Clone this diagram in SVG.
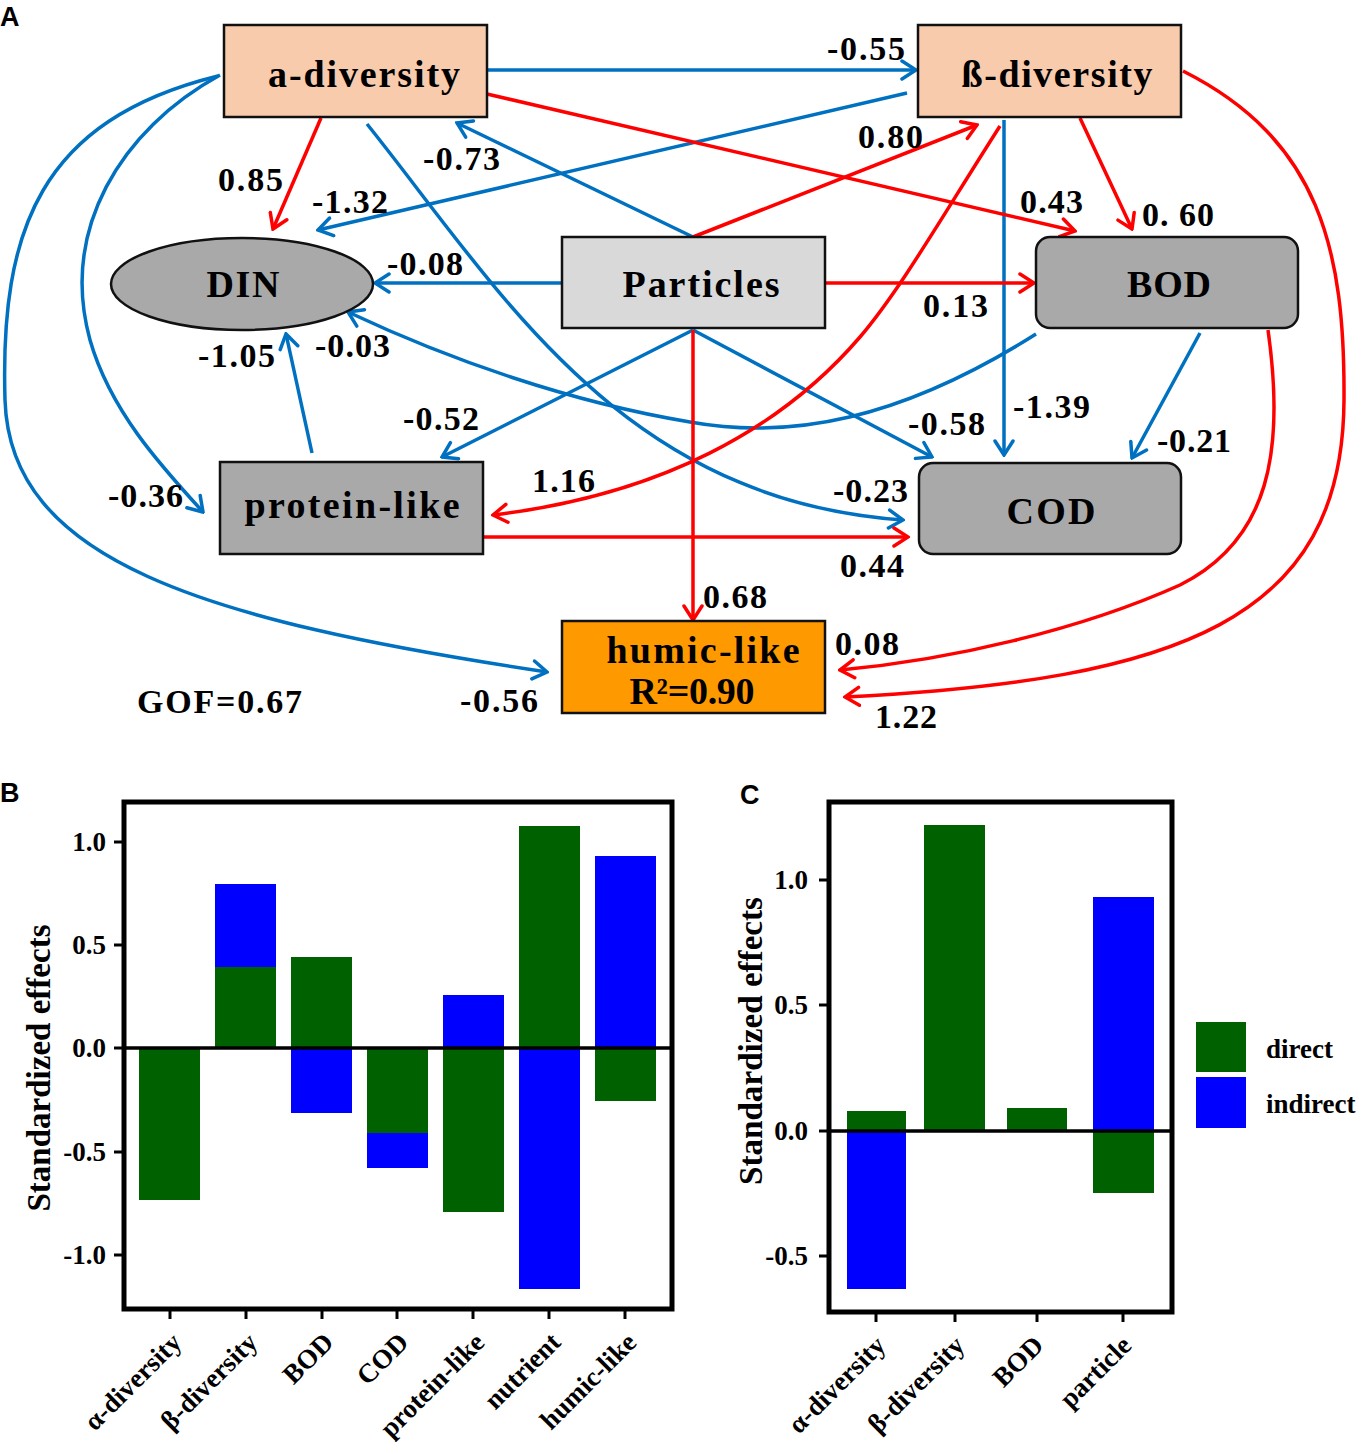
<svg xmlns="http://www.w3.org/2000/svg" width="1358" height="1442" viewBox="0 0 1358 1442">
<style>
.box{stroke:#111;stroke-width:2.5}
.nl{font-family:"Liberation Serif","Times New Roman",serif;font-weight:bold;font-size:38px;text-anchor:middle;fill:#000}
.num{font-family:"Liberation Serif","Times New Roman",serif;font-weight:bold;font-size:34px;fill:#000}
.b{fill:none;stroke:#0070C0;stroke-width:3.5}
.r{fill:none;stroke:#FF0000;stroke-width:3.5}
.bb{marker-end:url(#ab)}
.rr{marker-end:url(#ar)}
.pl{font-family:"Liberation Sans",Arial,sans-serif;font-weight:bold;font-size:27px;fill:#000}
.ax{font-family:"Liberation Serif","Times New Roman",serif;font-weight:bold;font-size:27px;fill:#000}
.xl{font-family:"Liberation Serif","Times New Roman",serif;font-weight:bold;font-size:27px;fill:#000;text-anchor:end}
.yt{font-family:"Liberation Serif","Times New Roman",serif;font-weight:bold;font-size:33px;fill:#000;text-anchor:middle}
.frame{fill:none;stroke:#000;stroke-width:5}
.tk{stroke:#000;stroke-width:3}
.g{fill:#006100}
.bl{fill:#0000FF}
</style>
<defs>
<marker id="ab" markerUnits="userSpaceOnUse" viewBox="0 0 18 22" refX="16" refY="11" markerWidth="18" markerHeight="22" orient="auto">
<path d="M2,2 L16,11 L2,20" fill="none" stroke="#0070C0" stroke-width="3.5" stroke-linecap="round" stroke-linejoin="miter"/>
</marker>
<marker id="ar" markerUnits="userSpaceOnUse" viewBox="0 0 18 22" refX="16" refY="11" markerWidth="18" markerHeight="22" orient="auto">
<path d="M2,2 L16,11 L2,20" fill="none" stroke="#FF0000" stroke-width="3.5" stroke-linecap="round" stroke-linejoin="miter"/>
</marker>
</defs>
<rect x="0" y="0" width="1358" height="1442" fill="#FFFFFF"/>

<text class="pl" x="0" y="26">A</text>

<g id="connectors">
<!-- straight blue -->
<path class="b bb" d="M484,70 L916,70"/>
<path class="b bb" d="M907,93 L318,230"/>
<path class="b bb" d="M693,237 L457,123"/>
<path class="b bb" d="M562,283 L375,283"/>
<path class="b bb" d="M1004,120 L1004,455"/>
<path class="b bb" d="M1200,333 L1132,458"/>
<path class="b bb" d="M693,330 L442,457"/>
<path class="b bb" d="M693,330 L932,457"/>
<path class="b bb" d="M312,453 L286,334"/>
<!-- curved blue -->
<path class="b bb" d="M367,124 C500,290 620,500 903,520"/>
<path class="b bb" d="M1036,334 C900,420 790,440 690,422 C570,402 450,360 348,312"/>
<path class="b bb" d="M220,75 C120,130 60,230 90,340 C110,410 160,465 203,512"/>
<path class="b bb" d="M218,76 C40,120 0,230 5,400 C10,560 200,620 547,672"/>
<!-- straight red -->
<path class="r rr" d="M487,94 L1075,231"/>
<path class="r rr" d="M321,118 L273,229"/>
<path class="r rr" d="M825,283 L1034,283"/>
<path class="r rr" d="M693,237 L977,125"/>
<path class="r rr" d="M1080,118 L1132,229"/>
<path class="r rr" d="M693,330 L693,620"/>
<path class="r rr" d="M483,537 L908,537"/>
<!-- curved red -->
<path class="r rr" d="M1000,126 C940,220 900,290 860,337 C780,430 660,495 493,515"/>
<path class="r rr" d="M1183,71 C1320,140 1345,250 1344,400 C1343,620 1180,680 845,697"/>
<path class="r rr" d="M1268,330 C1285,450 1270,540 1180,585 C1080,630 950,660 840,670"/>
</g>

<g id="node-a-diversity">
<rect class="box" x="224" y="25" width="263" height="92" fill="#F8CBAD"/>
<text class="nl" x="364" y="87" textLength="192" lengthAdjust="spacing">a-diversity</text>
</g>
<g id="node-b-diversity">
<rect class="box" x="918" y="25" width="263" height="92" fill="#F8CBAD"/>
<text class="nl" x="1057" y="87" textLength="191" lengthAdjust="spacing">ß-diversity</text>
</g>
<g id="node-DIN">
<ellipse class="box" cx="242" cy="284" rx="131" ry="46" fill="#A9A9A9"/>
<text class="nl" x="243" y="297" textLength="73" lengthAdjust="spacing">DIN</text>
</g>
<g id="node-Particles">
<rect class="box" x="562" y="237" width="263" height="91" fill="#D9D9D9"/>
<text class="nl" x="701" y="297" textLength="157" lengthAdjust="spacing">Particles</text>
</g>
<g id="node-BOD">
<rect class="box" x="1036" y="237" width="262" height="91" rx="14" fill="#A9A9A9"/>
<text class="nl" x="1169" y="297" textLength="84" lengthAdjust="spacing">BOD</text>
</g>
<g id="node-protein-like">
<rect class="box" x="220" y="462" width="263" height="92" fill="#A9A9A9"/>
<text class="nl" x="352" y="518" textLength="215" lengthAdjust="spacing">protein-like</text>
</g>
<g id="node-COD">
<rect class="box" x="919" y="463" width="262" height="91" rx="14" fill="#A9A9A9"/>
<text class="nl" x="1051" y="524" textLength="89" lengthAdjust="spacing">COD</text>
</g>
<g id="node-humic-like">
<rect class="box" x="562" y="621" width="263" height="92" fill="#FF9900"/>
<text class="nl" x="703" y="663" textLength="193" lengthAdjust="spacing">humic-like</text>
<text class="nl" x="692" y="704" textLength="125" lengthAdjust="spacing">R²=0.90</text>
</g>

<g id="edge-labels">
<text class="num" x="827" y="60" textLength="78" lengthAdjust="spacing">-0.55</text>
<text class="num" x="858" y="148" textLength="65" lengthAdjust="spacing">0.80</text>
<text class="num" x="423" y="170" textLength="77" lengthAdjust="spacing">-0.73</text>
<text class="num" x="218" y="191" textLength="65" lengthAdjust="spacing">0.85</text>
<text class="num" x="312" y="213" textLength="76" lengthAdjust="spacing">-1.32</text>
<text class="num" x="387" y="275" textLength="76" lengthAdjust="spacing">-0.08</text>
<text class="num" x="315" y="357" textLength="75" lengthAdjust="spacing">-0.03</text>
<text class="num" x="198" y="367" textLength="77" lengthAdjust="spacing">-1.05</text>
<text class="num" x="1020" y="213" textLength="63" lengthAdjust="spacing">0.43</text>
<text class="num" x="1142" y="226" textLength="72" lengthAdjust="spacing">0. 60</text>
<text class="num" x="923" y="317" textLength="65" lengthAdjust="spacing">0.13</text>
<text class="num" x="1013" y="418" textLength="77" lengthAdjust="spacing">-1.39</text>
<text class="num" x="908" y="435" textLength="77" lengthAdjust="spacing">-0.58</text>
<text class="num" x="1157" y="452" textLength="74" lengthAdjust="spacing">-0.21</text>
<text class="num" x="403" y="430" textLength="76" lengthAdjust="spacing">-0.52</text>
<text class="num" x="108" y="507" textLength="75" lengthAdjust="spacing">-0.36</text>
<text class="num" x="532" y="492" textLength="63" lengthAdjust="spacing">1.16</text>
<text class="num" x="833" y="502" textLength="75" lengthAdjust="spacing">-0.23</text>
<text class="num" x="840" y="577" textLength="64" lengthAdjust="spacing">0.44</text>
<text class="num" x="703" y="608" textLength="64" lengthAdjust="spacing">0.68</text>
<text class="num" x="835" y="655" textLength="64" lengthAdjust="spacing">0.08</text>
<text class="num" x="875" y="728" textLength="62" lengthAdjust="spacing">1.22</text>
<text class="num" x="460" y="712" textLength="78" lengthAdjust="spacing">-0.56</text>
<text class="num" x="137" y="713" textLength="165" lengthAdjust="spacing">GOF=0.67</text>
</g>

<!-- Panel B -->
<g id="panel-B">
<text class="pl" x="0" y="802">B</text>
<rect class="g" x="139" y="1048" width="61" height="152"/>
<rect class="g" x="215" y="967" width="61" height="81"/>
<rect class="bl" x="215" y="884" width="61" height="83"/>
<rect class="g" x="291" y="957" width="61" height="91"/>
<rect class="bl" x="291" y="1048" width="61" height="65"/>
<rect class="g" x="367" y="1048" width="61" height="85"/>
<rect class="bl" x="367" y="1133" width="61" height="35"/>
<rect class="bl" x="443" y="995" width="61" height="53"/>
<rect class="g" x="443" y="1048" width="61" height="164"/>
<rect class="g" x="519" y="826" width="61" height="222"/>
<rect class="bl" x="519" y="1048" width="61" height="241"/>
<rect class="bl" x="595" y="856" width="61" height="192"/>
<rect class="g" x="595" y="1048" width="61" height="53"/>
<line x1="124" y1="1048" x2="672" y2="1048" stroke="#000" stroke-width="3.5"/>
<rect class="frame" x="124" y="802" width="548" height="507"/>
<g class="tk">
<line x1="114" y1="842" x2="124" y2="842"/>
<line x1="114" y1="945" x2="124" y2="945"/>
<line x1="114" y1="1048" x2="124" y2="1048"/>
<line x1="114" y1="1152" x2="124" y2="1152"/>
<line x1="114" y1="1255" x2="124" y2="1255"/>
<line x1="170" y1="1309" x2="170" y2="1319"/>
<line x1="246" y1="1309" x2="246" y2="1319"/>
<line x1="322" y1="1309" x2="322" y2="1319"/>
<line x1="397" y1="1309" x2="397" y2="1319"/>
<line x1="473" y1="1309" x2="473" y2="1319"/>
<line x1="549" y1="1309" x2="549" y2="1319"/>
<line x1="625" y1="1309" x2="625" y2="1319"/>
</g>
<g class="ax" text-anchor="end">
<text x="106" y="851">1.0</text>
<text x="106" y="954">0.5</text>
<text x="106" y="1057">0.0</text>
<text x="106" y="1161">-0.5</text>
<text x="106" y="1264">-1.0</text>
</g>
<text class="yt" transform="translate(50,1068) rotate(-90)" textLength="287" lengthAdjust="spacingAndGlyphs">Standardized effects</text>
<text class="xl" transform="translate(183,1344) rotate(-45)">α-diversity</text>
<text class="xl" transform="translate(259,1344) rotate(-45)">β-diversity</text>
<text class="xl" transform="translate(335,1344) rotate(-45)">BOD</text>
<text class="xl" transform="translate(410,1344) rotate(-45)">COD</text>
<text class="xl" transform="translate(486,1344) rotate(-45)">protein-like</text>
<text class="xl" transform="translate(562,1344) rotate(-45)">nutrient</text>
<text class="xl" transform="translate(638,1344) rotate(-45)">humic-like</text>
</g>

<!-- Panel C -->
<g id="panel-C">
<text class="pl" x="740" y="804">C</text>
<rect class="g" x="847" y="1111" width="59" height="20"/>
<rect class="bl" x="847" y="1131" width="59" height="158"/>
<rect class="g" x="924" y="825" width="61" height="306"/>
<rect class="g" x="1007" y="1108" width="60" height="23"/>
<rect class="bl" x="1093" y="897" width="61" height="234"/>
<rect class="g" x="1093" y="1131" width="61" height="62"/>
<line x1="829" y1="1131" x2="1172" y2="1131" stroke="#000" stroke-width="3.5"/>
<rect class="frame" x="829" y="802" width="343" height="510"/>
<g class="tk">
<line x1="819" y1="880" x2="829" y2="880"/>
<line x1="819" y1="1005" x2="829" y2="1005"/>
<line x1="819" y1="1131" x2="829" y2="1131"/>
<line x1="819" y1="1256" x2="829" y2="1256"/>
<line x1="876" y1="1312" x2="876" y2="1322"/>
<line x1="955" y1="1312" x2="955" y2="1322"/>
<line x1="1037" y1="1312" x2="1037" y2="1322"/>
<line x1="1123" y1="1312" x2="1123" y2="1322"/>
</g>
<g class="ax" text-anchor="end">
<text x="808" y="889">1.0</text>
<text x="808" y="1014">0.5</text>
<text x="808" y="1140">0.0</text>
<text x="808" y="1265">-0.5</text>
</g>
<text class="yt" transform="translate(762,1041) rotate(-90)" textLength="288" lengthAdjust="spacingAndGlyphs">Standardized effects</text>
<text class="xl" transform="translate(887,1347) rotate(-45)">α-diversity</text>
<text class="xl" transform="translate(966,1347) rotate(-45)">β-diversity</text>
<text class="xl" transform="translate(1045,1347) rotate(-45)">BOD</text>
<text class="xl" transform="translate(1133,1347) rotate(-45)">particle</text>
</g>

<g id="legend">
<rect class="g" x="1196" y="1022" width="50" height="50"/>
<rect class="bl" x="1196" y="1077" width="50" height="51"/>
<text class="ax" x="1266" y="1058">direct</text>
<text class="ax" x="1266" y="1113">indirect</text>
</g>
</svg>
